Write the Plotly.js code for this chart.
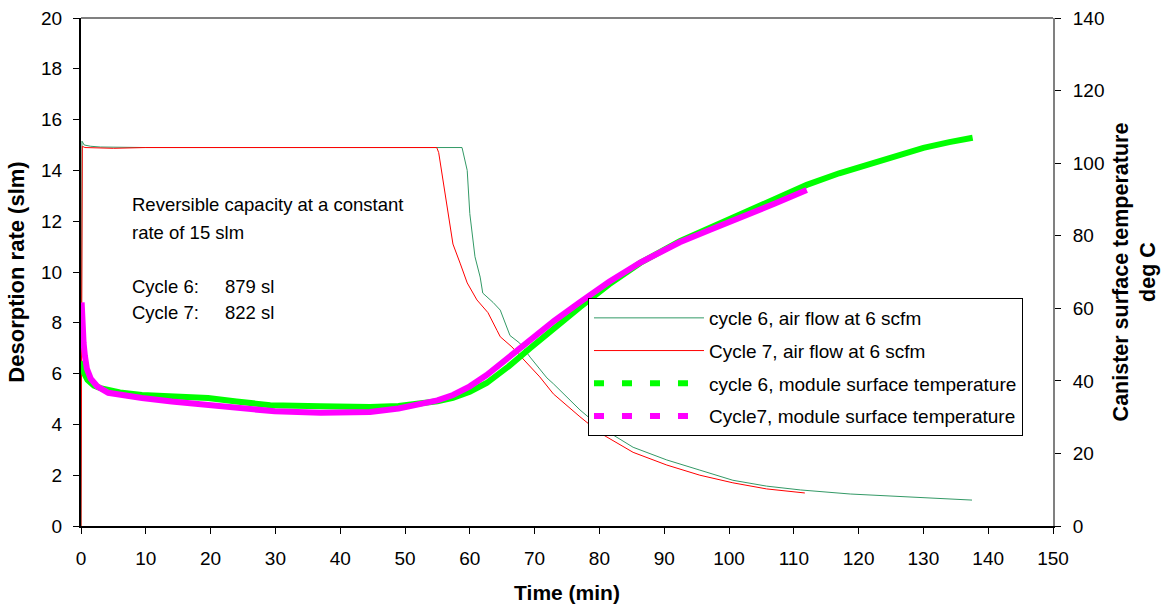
<!DOCTYPE html>
<html>
<head>
<meta charset="utf-8">
<script src="https://cdn.plot.ly/plotly-3.0.1.min.js"></script>
<style>html,body{margin:0;padding:0;background:#fff;}#chart{width:1167px;height:613px;}</style>
</head>
<body>
<div id="chart"></div>
<script>
// ---- Data ----
// Desorption rate (slm), left axis
const c6FlowTime = [0, 0.15, 0.5, 1.5, 3, 10, 30, 50, 58.8, 59.6, 60.0, 60.8, 61.6, 62.0, 63.6, 64.7, 66.2, 67.7, 69.3, 71.9, 72.9, 77.0, 80.1, 85.2, 90.4, 95.5, 100.6, 105.8, 111.0, 118.7, 130.0, 137.5];
const c6Flow     = [0, 15.15, 15.0, 14.95, 14.92, 14.9, 14.9, 14.9, 14.9, 14.0, 12.3, 10.6, 9.8, 9.17, 8.8, 8.5, 7.5, 7.2, 6.65, 5.83, 5.6, 4.57, 3.9, 3.1, 2.6, 2.2, 1.8, 1.57, 1.42, 1.26, 1.12, 1.02];

const c7FlowTime = [0, 0.2, 0.6, 5, 10, 30, 50, 54.9, 55.2, 55.7, 56.5, 57.4, 58.5, 59.6, 61.1, 62.8, 64.2, 64.7, 66.5, 69.3, 70.8, 72.9, 77.0, 80.1, 85.2, 90.4, 95.5, 100.6, 105.8, 111.7];
const c7Flow     = [0, 14.95, 14.9, 14.87, 14.9, 14.9, 14.9, 14.9, 14.7, 13.9, 12.6, 11.1, 10.35, 9.57, 8.9, 8.4, 7.7, 7.45, 7.05, 6.27, 5.87, 5.2, 4.3, 3.66, 2.9, 2.4, 2.0, 1.7, 1.46, 1.3];

// Canister surface temperature (deg C), right axis
const c6TempTime = [0.2, 0.5, 1, 1.5, 2, 3, 4, 6, 9.4, 14, 19.6, 24, 29.2, 37, 44.6, 49, 52.3, 55, 57.4, 60, 62.6, 66, 69.3, 73, 77, 81.5, 86.3, 92.4, 97, 101.7, 107, 112, 117, 122.2, 130, 134, 137.6];
const c6Temp     = [45.5, 42, 40.3, 39.4, 38.7, 38.0, 37.5, 36.8, 36.1, 35.7, 35.3, 34.3, 33.3, 33.0, 32.8, 33.1, 33.7, 34.4, 35.3, 37.0, 39.4, 44.0, 49.0, 54.6, 60.3, 66.6, 72.5, 78.5, 82.2, 85.9, 90.0, 94.0, 97.2, 100.0, 104.2, 105.8, 107.0];

const c7TempTime = [0.1, 0.2, 0.4, 0.6, 0.9, 1.5, 2.5, 4.2, 6.5, 9.4, 14, 19.6, 24, 29.9, 37, 44.6, 49, 52.3, 55, 57.4, 60, 62.6, 66, 69.3, 73, 77, 81.5, 86.3, 92.4, 97, 101.7, 107, 112];
const c7Temp     = [61.6, 56, 50.4, 46.9, 43.4, 40.6, 38.5, 36.7, 35.9, 35.3, 34.3, 33.3, 32.5, 31.6, 31.2, 31.4, 32.4, 33.4, 34.6, 36.1, 38.5, 41.6, 46.5, 51.2, 56.5, 61.7, 67.3, 72.6, 78.2, 81.6, 84.8, 88.8, 92.6];

const names = ["cycle 6, air flow at 6 scfm", "Cycle 7, air flow at 6 scfm", "cycle 6, module surface temperature", "Cycle7, module surface temperature"];
const noteLines = ["Reversible capacity at a constant", "rate of 15 slm", "Cycle 6:", "Cycle 7:"];
const noteValues = ["879 sl", "822 sl"];
const xTicks = [0,10,20,30,40,50,60,70,80,90,100,110,120,130,140,150];

const FONT = "Liberation Sans, Arial, sans-serif";

const traces = [
  {x: c6TempTime, y: c6Temp, yaxis: "y2", mode: "lines", line: {color: "#00ff00", width: 6}, showlegend: false, hoverinfo: "skip"},
  {x: c7TempTime, y: c7Temp, yaxis: "y2", mode: "lines", line: {color: "#ff00ff", width: 6}, showlegend: false, hoverinfo: "skip"},
  {x: c6FlowTime, y: c6Flow, mode: "lines", name: names[0], legendgroup: "a", line: {color: "#339966", width: 1}},
  {x: c7FlowTime, y: c7Flow, mode: "lines", name: names[1], legendgroup: "b", line: {color: "#ff0000", width: 1}},
  {x: [null], y: [null], yaxis: "y2", mode: "lines", name: names[2], legendgroup: "c", line: {color: "#00ff00", width: 6, dash: "10px,18px"}},
  {x: [null], y: [null], yaxis: "y2", mode: "lines", name: names[3], legendgroup: "d", line: {color: "#ff00ff", width: 6, dash: "10px,18px"}}
];

const annY = [12.64, 11.57, 9.41, 8.39];
const annotations = [];
noteLines.forEach((t, i) => {
  annotations.push({x: 7.56, y: annY[i], xref: "x", yref: "y", text: t, showarrow: false, xanchor: "left", yanchor: "middle", font: {family: FONT, size: 18.5, color: "#000"}});
});
noteValues.forEach((t, i) => {
  annotations.push({x: 21.9, y: annY[i + 2], xref: "x", yref: "y", text: t, showarrow: false, xanchor: "left", yanchor: "middle", font: {family: FONT, size: 18.5, color: "#000"}});
});

const layout = {
  width: 1167, height: 613,
  margin: {l: 81, r: 114, t: 18, b: 87},
  paper_bgcolor: "#fff", plot_bgcolor: "#fff",
  showlegend: true,
  legend: {
    x: 0.5216, y: 0.4488, xanchor: "left", yanchor: "top",
    bgcolor: "#fff", bordercolor: "#000", borderwidth: 1,
    font: {family: FONT, size: 19, color: "#000"},
    traceorder: "grouped", tracegroupgap: 5, itemwidth: 110
  },
  xaxis: {
    range: [0, 150], tickvals: xTicks, ticktext: xTicks.map(String),
    showgrid: false, zeroline: false, showline: true, linecolor: "#000", linewidth: 2,
    ticks: "outside", ticklen: 6, tickcolor: "#000", tickwidth: 1,
    ticklabelstandoff: 8,
    tickfont: {family: FONT, size: 19, color: "#000"},
    title: {text: "<b>Time (min)</b>", font: {family: FONT, size: 21, color: "#000"}, standoff: 18}
  },
  yaxis: {
    range: [0, 20], dtick: 2,
    showgrid: false, zeroline: false, showline: true, linecolor: "#000", linewidth: 2,
    ticks: "outside", ticklen: 6, tickcolor: "#000", tickwidth: 1,
    ticklabelstandoff: 7,
    tickfont: {family: FONT, size: 19, color: "#000"},
    title: {text: "<b>Desorption rate (slm)</b>", font: {family: FONT, size: 22, color: "#000"}, standoff: 10}
  },
  yaxis2: {
    range: [0, 140], dtick: 20, overlaying: "y", side: "right",
    showgrid: false, zeroline: false, showline: true, linecolor: "#808080", linewidth: 2,
    ticks: "outside", ticklen: 6, tickcolor: "#000", tickwidth: 1,
    ticklabelstandoff: 8,
    tickfont: {family: FONT, size: 19, color: "#000"},
    title: {text: "<b>Canister surface temperature<br>deg C</b>", font: {family: FONT, size: 21.5, color: "#000"}, standoff: 9}
  },
  shapes: [
    {type: "line", xref: "paper", yref: "paper", x0: 0, x1: 1, y0: 1, y1: 1, line: {color: "#808080", width: 2}}
  ],
  annotations: annotations
};

Plotly.newPlot("chart", traces, layout, {displayModeBar: false, staticPlot: true});
</script>
</body>
</html>
